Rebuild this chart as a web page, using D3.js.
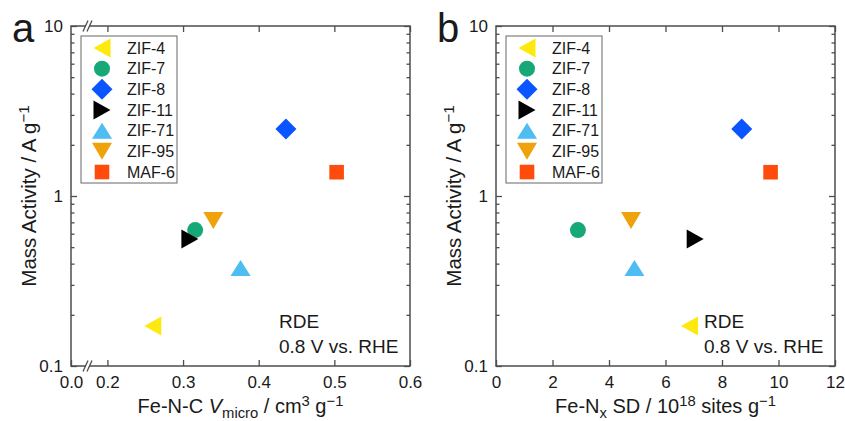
<!DOCTYPE html>
<html>
<head>
<meta charset="utf-8">
<script src="https://cdn.jsdelivr.net/npm/d3@7"></script>
<style>
  body { margin: 0; background: #fff; }
  svg text { font-family: 'Liberation Sans', Arial, sans-serif; fill: #1a1a1a; }
</style>
</head>
<body>
<div id="chart"></div>
<script>
(() => {
  const WIDTH = 845
  const HEIGHT = 421
  const TOP = 26
  const PLOT_W = 339
  const PLOT_H = 340
  const AXIS_COLOR = '#4d4d4d'

  // values
  const materials = ['ZIF-4', 'ZIF-7', 'ZIF-8', 'ZIF-11', 'ZIF-71', 'ZIF-95', 'MAF-6']
  const microVolume = [0.260, 0.316, 0.436, 0.309, 0.376, 0.340, 0.503]
  const siteDensity = [6.85, 2.90, 8.70, 7.05, 4.90, 4.78, 9.72]
  const massActivity = [0.172, 0.63, 2.48, 0.558, 0.377, 0.718, 1.38]
  const markers = ['left', 'circle', 'diamond', 'right', 'up', 'down', 'square']
  const colors = ['#fde90f', '#17a878', '#0a55ff', '#000000', '#4dbdf2', '#f0a20c', '#ff4c0c']

  const yTicks = [0.1, 1, 10]
  const xTicksA = [0, 0.2, 0.3, 0.4, 0.5, 0.6]
  const xTicksB = [0, 2, 4, 6, 8, 10, 12]

  // minor ticks 2..9 in each decade
  const yMinor = [0.1, 1].flatMap(d => d3.range(2, 10).map(k => k * d))

  const shape = type => {
    switch (type) {
      case 'left': return 'M-8.5,0L8.5,-9.5L8.5,9.5Z'
      case 'right': return 'M8.5,0L-8.5,-9.5L-8.5,9.5Z'
      case 'up': return 'M0,-8L10,8L-10,8Z'
      case 'down': return 'M0,8.5L10,-8.5L-10,-8.5Z'
      case 'diamond': return 'M0,-10.5L10.5,0L0,10.5L-10.5,0Z'
      case 'square': return 'M-7.3,-7.3H7.3V7.3H-7.3Z'
      default: return 'M8,0A8,8 0 1,1 -8,0A8,8 0 1,1 8,0Z'
    }
  }

  const panels = [
    {
      label: 'a',
      left: 71,
      x: d3.scaleLinear().domain([0, 0.175, 0.6]).range([0, 17.5, PLOT_W]),
      xTicks: xTicksA,
      xFormat: d3.format('.1f'),
      xValues: microVolume,
      breakAt: 0.17,
      xTitle: [
        { t: 'Fe-N-C ' },
        { t: 'V', italic: true },
        { t: 'micro', sub: true },
        { t: ' / cm' },
        { t: '3', sup: true },
        { t: ' g' },
        { t: '\u22121', sup: true }
      ]
    },
    {
      label: 'b',
      left: 496,
      x: d3.scaleLinear().domain([0, 12]).range([0, PLOT_W]),
      xTicks: xTicksB,
      xFormat: d3.format('d'),
      xValues: siteDensity,
      breakAt: null,
      xTitle: [
        { t: 'Fe-N' },
        { t: 'x', sub: true },
        { t: ' SD / 10' },
        { t: '18', sup: true },
        { t: ' sites g' },
        { t: '\u22121', sup: true }
      ]
    }
  ]

  const svg = d3.select('#chart').append('svg')
    .attr('width', WIDTH)
    .attr('height', HEIGHT)

  const styleAxis = sel => {
    sel.select('.domain').remove()
    sel.selectAll('line').attr('stroke', AXIS_COLOR).attr('stroke-width', 1.3)
    sel.selectAll('text').attr('font-size', 17).attr('fill', '#1a1a1a')
  }

  // writes a list of pieces with sub / superscripts into a text element
  const richText = (text, pieces, size) => {
    let shift = 0
    pieces.forEach(p => {
      const span = text.append('tspan').text(p.t)
      let target = 0
      if (p.sub) target = 5
      if (p.sup) target = -7
      span.attr('dy', target - shift)
      shift = target
      span.attr('font-size', p.sub || p.sup ? size * 0.74 : size)
      if (p.italic) span.attr('font-style', 'italic')
    })
  }

  panels.forEach(p => {
    const y = d3.scaleLog().domain([0.1, 10]).range([PLOT_H, 0])

    const g = svg.append('g')
      .attr('transform', `translate(${p.left}, ${TOP})`)

    // axes, ticks pointing inwards on all four sides
    g.append('g')
      .attr('transform', `translate(0, ${PLOT_H})`)
      .call(d3.axisBottom(p.x).tickValues(p.xTicks).tickFormat(p.xFormat).tickSize(-6).tickPadding(10))
      .call(styleAxis)

    g.append('g')
      .call(d3.axisTop(p.x).tickValues(p.xTicks.slice(1)).tickFormat('').tickSize(-6))
      .call(styleAxis)

    g.append('g')
      .call(d3.axisLeft(y).tickValues(yTicks).tickFormat(d => d).tickSize(-6).tickPadding(8))
      .call(styleAxis)

    g.append('g')
      .call(d3.axisLeft(y).tickValues(yMinor).tickFormat('').tickSize(-3.5))
      .call(styleAxis)

    g.append('g')
      .attr('transform', `translate(${PLOT_W}, 0)`)
      .call(d3.axisRight(y).tickValues(yTicks).tickFormat('').tickSize(-6))
      .call(styleAxis)

    g.append('g')
      .attr('transform', `translate(${PLOT_W}, 0)`)
      .call(d3.axisRight(y).tickValues(yMinor).tickFormat('').tickSize(-3.5))
      .call(styleAxis)

    g.append('rect')
      .attr('width', PLOT_W)
      .attr('height', PLOT_H)
      .attr('fill', 'none')
      .attr('stroke', AXIS_COLOR)
      .attr('stroke-width', 1.5)

    // axis break marks
    if (p.breakAt !== null) {
      const bx = p.x(p.breakAt)
      ;[0, PLOT_H].forEach(by => {
        g.append('path')
          .attr('d', `M${bx - 5},${by + 5.5}L${bx},${by - 5.5}L${bx + 4},${by - 5.5}L${bx - 1},${by + 5.5}Z`)
          .attr('fill', '#fff')
        ;[0, 4].forEach(off => {
          g.append('line')
            .attr('x1', bx - 5 + off).attr('y1', by + 5.5)
            .attr('x2', bx + off).attr('y2', by - 5.5)
            .attr('stroke', AXIS_COLOR)
            .attr('stroke-width', 1.3)
        })
      })
    }

    // data points
    const points = materials.map((name, i) => ({
      name,
      xv: p.xValues[i],
      yv: massActivity[i],
      marker: markers[i],
      color: colors[i]
    }))

    g.append('g')
      .selectAll('path')
      .data(points)
      .join('path')
      .attr('transform', d => `translate(${p.x(d.xv)}, ${y(d.yv)})`)
      .attr('d', d => shape(d.marker))
      .attr('fill', d => d.color)

    // legend
    const legend = g.append('g')
      .attr('transform', 'translate(10, 10)')

    legend.append('rect')
      .attr('width', 96)
      .attr('height', 147)
      .attr('fill', '#fff')
      .attr('stroke', '#666')
      .attr('stroke-width', 1)

    const rows = legend.selectAll('g.row')
      .data(points)
      .join('g')
      .classed('row', true)
      .attr('transform', (d, i) => `translate(0, ${12 + i * 20.67})`)

    rows.append('path')
      .attr('transform', 'translate(21, 0)')
      .attr('d', d => shape(d.marker))
      .attr('fill', d => d.color)

    rows.append('text')
      .attr('x', 46)
      .attr('dy', '0.36em')
      .attr('font-size', 16)
      .text(d => d.name)

    // measurement note
    g.append('text')
      .attr('x', 208)
      .attr('y', 302)
      .attr('font-size', 19)
      .text('RDE')

    g.append('text')
      .attr('x', 208)
      .attr('y', 327)
      .attr('font-size', 19)
      .text('0.8 V vs. RHE')

    // axis titles
    const yTitle = g.append('text')
      .attr('transform', `translate(-35, ${PLOT_H / 2}) rotate(-90)`)
      .attr('text-anchor', 'middle')
    richText(yTitle, [{ t: 'Mass Activity / A g' }, { t: '\u22121', sup: true }], 20.5)

    const xTitle = g.append('text')
      .attr('x', PLOT_W / 2)
      .attr('y', 387)
      .attr('text-anchor', 'middle')
    richText(xTitle, p.xTitle, 20)

    // panel letter
    g.append('text')
      .attr('x', -59)
      .attr('y', 16)
      .attr('font-size', 40)
      .text(p.label)
  })
})()
</script>
</body>
</html>
